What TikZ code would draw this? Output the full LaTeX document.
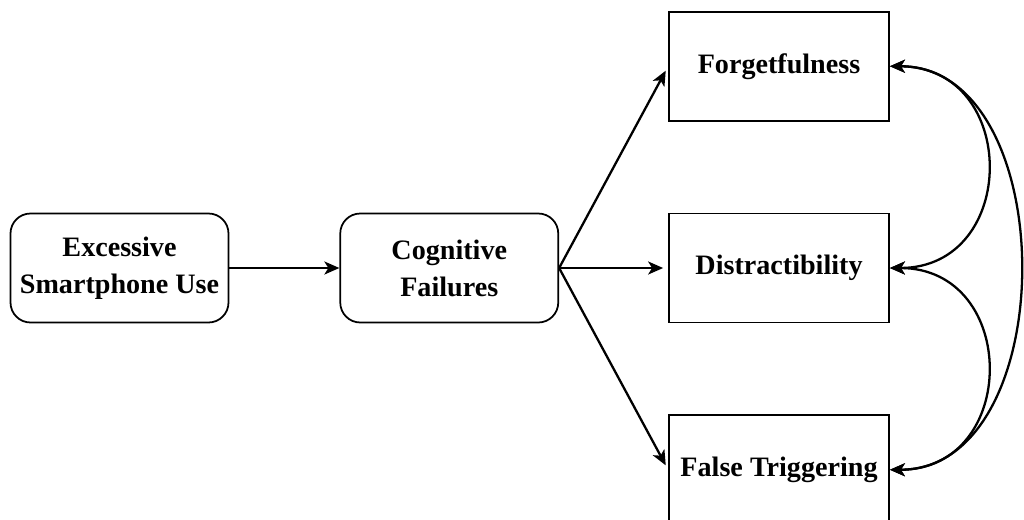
\documentclass[tikz,border=0pt]{standalone}
\usepackage{fontspec}
\setmainfont{Liberation Serif}
\usetikzlibrary{arrows.meta,positioning}

\begin{document}
\begin{tikzpicture}[font=\fontsize{16}{21}\selectfont\bfseries,node distance=2.2cm,
  rbox/.style={draw,line width=1pt,rounded corners=4mm,align=center,minimum width=4.36cm,minimum height=2.18cm},
  sbox/.style={draw,line width=1pt,align=center,minimum width=4.4cm,minimum height=2.18cm},
  arr/.style={-{Stealth[length=3mm,width=2.6mm,inset=0.8mm]},line width=1.3pt},
  biarr/.style={{Stealth[length=3mm,width=2.6mm,inset=0.8mm]}-{Stealth[length=3mm,width=2.6mm,inset=0.8mm]},line width=1.3pt}]
\useasboundingbox (0,0) rectangle (20.48,-10.38);
\node[rbox] (esu) at (2.39,-5.36) {Excessive\\Smartphone Use};
\node[rbox,right=of esu] (cf) {Cognitive\\Failures};
\node[sbox,right=2.18cm of cf] (dist) {Distractibility};
\node[sbox,above=1.82cm of dist] (forg) {Forgetfulness};
\node[sbox,below=1.82cm of dist] (ftrig) {False Triggering};
\draw[arr] (esu)--(cf);
\draw[arr,shorten >=1mm] (cf.east)--(forg.west); \draw[arr,shorten >=1mm] (cf.east)--(dist.west); \draw[arr,shorten >=1mm] (cf.east)--(ftrig.west);
% links between the three facets
\draw[biarr] (forg.east) to[out=0,in=0,looseness=1.65] (dist.east);
\draw[biarr] (dist.east) to[out=0,in=0,looseness=1.65] (ftrig.east);
\draw[biarr] (forg.east) to[out=0,in=0,looseness=1.1] (ftrig.east);
\end{tikzpicture}
\end{document}
